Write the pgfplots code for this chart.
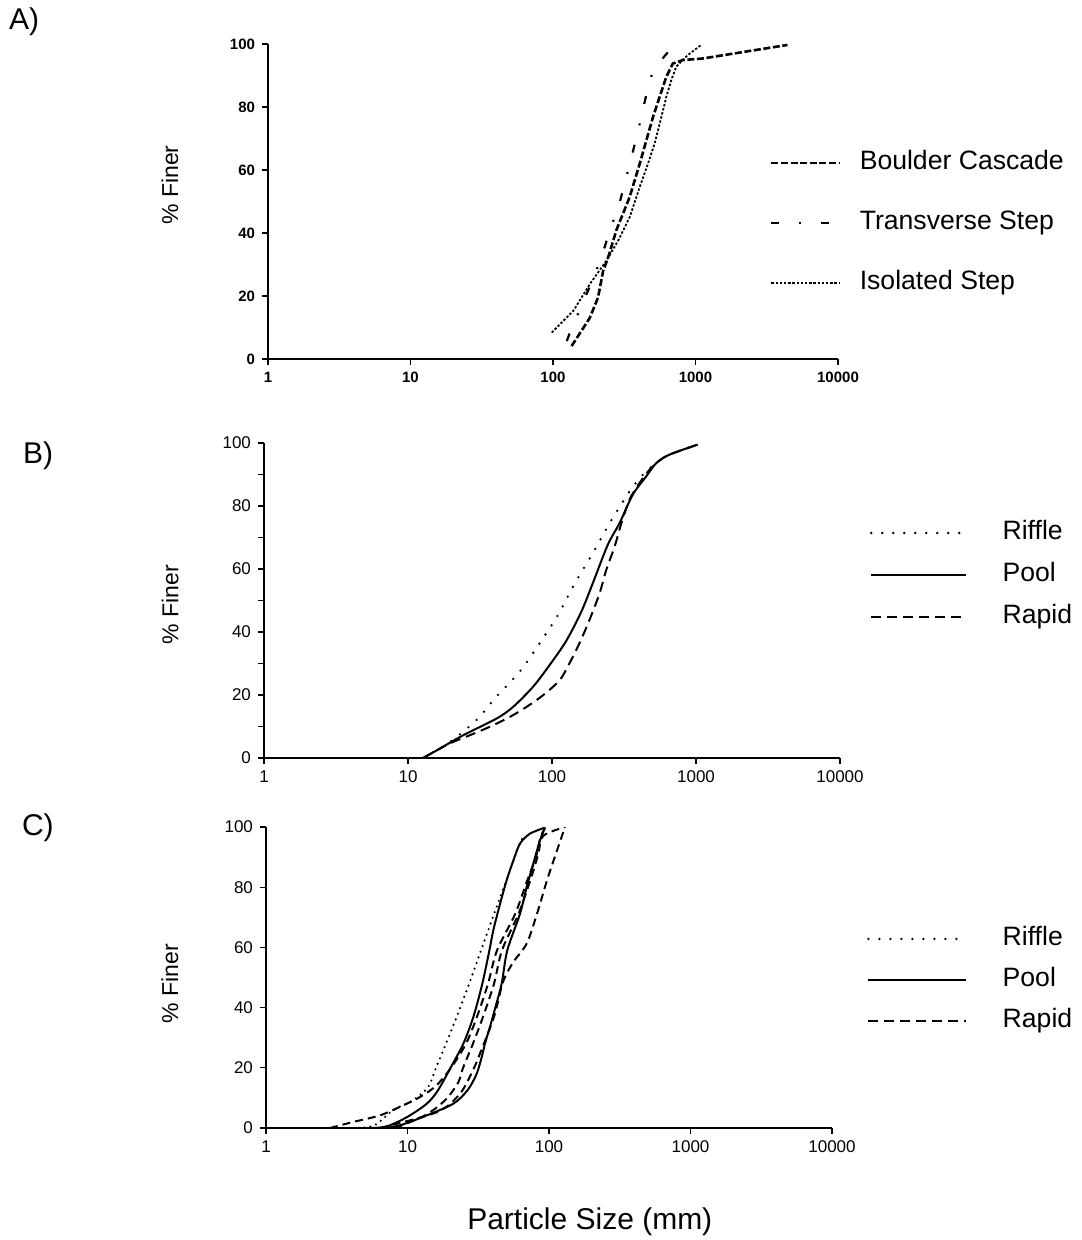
\documentclass[border=0pt]{standalone}
\usepackage{fontspec}
\setmainfont{Liberation Sans}
\usepackage{pgfplots}
\pgfplotsset{compat=1.18}

\tikzset{
  pool/.style={black, line width=1pt},
  rapid/.style={black, line width=1pt, dash pattern=on 5pt off 3pt},
  riffle/.style={black, line width=1.3pt, line cap=round, dash pattern=on 0pt off 5.5pt},
  riffleC/.style={black, line width=1.2pt, line cap=round, dash pattern=on 0pt off 3pt},
  rapidC/.style={black, line width=1pt, dash pattern=on 4pt off 2.5pt},
}

\begin{document}
\begin{tikzpicture}[x=1pt,y=1pt]
\useasboundingbox (0,0) rectangle (540.5,-620);

% ---------------- Panel A ----------------
\begin{axis}[
  scale only axis,
  xmode=log, xmin=1, xmax=10000, ymin=0, ymax=100,
  axis x line*=bottom, axis y line*=left,
  axis line style={line width=0.8pt},
  xtick={1,10,100,1000,10000},
  xticklabels={1,10,100,1000,10000},
  ytick={0,20,40,60,80,100},
  xminorticks=false,
  tick align=outside,
  major tick length=3pt,
  tick style={line width=0.6pt, black},
  /pgf/number format/assume math mode=true,
  every axis title shift=0pt,
  at={(134pt,-179.5pt)}, anchor=south west,
  width=285pt, height=157.5pt,
  ticklabel style={font=\bfseries\fontsize{7.5}{9}\selectfont},
  ylabel={\% Finer},
  ylabel style={font=\fontsize{11.5}{13}\selectfont, anchor=center, at={(axis description cs:-0.172,0.552)}},
  title={A)}, title style={font=\fontsize{15}{17}\selectfont, anchor=center, at={(axis description cs:-0.428,1.07)}},
  legend cell align=left,
  legend image code/.code={\draw[#1] (0pt,0pt) -- (34pt,0pt);},
  legend style={draw=none, fill=none, inner sep=0pt, outer sep=0pt, anchor=west,
    font=\fontsize{13.3}{15}\selectfont,
    nodes={inner sep=0pt, text height=9.5pt, text depth=2.7pt},
    at={(axis description cs:0.881,0.432)}, row sep=17.8pt,
    /tikz/every odd column/.append style={column sep=9.5pt}},
]
\addplot[black, line width=1.3pt, dash pattern=on 3.5pt off 1.3pt] coordinates {
(135,4.1) (181,13) (207,19.5) (225,28) (244,32.3) (279,41) (345,51.4) (406,62)
(452,69.4) (503,76.8) (560,83.2) (624,89.6) (694,93.8) (815,94.9) (1125,95.4) (4420,99.7)};
\addlegendentry{Boulder Cascade}
\addplot[black, line width=1.1pt, dash pattern=on 4pt off 10pt on 1pt off 10pt] coordinates {
(125,5.7) (131.5,8.4) (186.5,24.3) (219,32.3) (250.5,40.8) (291,49) (327,57.7)
(364.5,66) (406,74.7) (447,83) (503,91.7) (665,98.3)};
\addlegendentry{Transverse Step}
\addplot[black, line width=0.9pt, dash pattern=on 1.2pt off 0.9pt] coordinates {
(98,8.4) (139,15.3) (181.5,23.8) (237,31.2) (290,38) (345,45) (406,54.6) (464,62)
(517,68.4) (576,76.8) (624,83.2) (676,88.5) (733,92.8) (815,95) (884,96.5) (1096,99.7)};
\addlegendentry{Isolated Step}
\end{axis}

% ---------------- Panel B ----------------
\begin{axis}[
  scale only axis,
  xmode=log, xmin=1, xmax=10000, ymin=0, ymax=100,
  axis x line*=bottom, axis y line*=left,
  axis line style={line width=0.8pt},
  xtick={1,10,100,1000,10000},
  xticklabels={1,10,100,1000,10000},
  ytick={0,20,40,60,80,100},
  minor ytick={10,30,50,70,90},
  xminorticks=false,
  tick align=outside,
  major tick length=3pt, minor tick length=3pt,
  tick style={line width=0.6pt, black},
  /pgf/number format/assume math mode=true,
  every axis title shift=0pt,
  at={(132pt,-379pt)}, anchor=south west,
  width=288pt, height=157.5pt,
  ticklabel style={font=\fontsize{8.5}{10}\selectfont},
  ylabel={\% Finer},
  ylabel style={font=\fontsize{11.5}{13}\selectfont, anchor=center, at={(axis description cs:-0.163,0.486)}},
  title={B)}, title style={font=\fontsize{15}{17}\selectfont, anchor=center, at={(axis description cs:-0.392,0.959)}},
  legend cell align=left,
  legend image code/.code={\draw[#1] (0pt,0pt) -- (47.5pt,0pt);},
  legend style={draw=none, fill=none, inner sep=0pt, outer sep=0pt, anchor=west,
    font=\fontsize{13.3}{15}\selectfont,
    nodes={inner sep=0pt, text height=9.5pt, text depth=2.7pt},
    at={(axis description cs:1.052,0.581)}, row sep=8.8pt,
    /tikz/every odd column/.append style={column sep=17.5pt}},
]
\addplot[riffle, smooth, tension=0.5] coordinates {
(12.7,0) (19.5,5.1) (29.8,12) (40.4,19.1) (59.6,27.4) (82,36.4) (110,45.4) (143,55.2)
(192,65) (251,74.5) (345,84.6) (427,89.9) (529,93.6) (654,96.3) (1028,99.5)};
\addlegendentry{Riffle}
\addplot[pool, smooth, tension=0.5] coordinates {
(12.7,0) (15.8,2.4) (24.1,7.2) (41.1,12.5) (53.6,16.2) (73.8,22.6) (96.2,29.5)
(125.6,37.2) (159.6,46.4) (192,55.5) (244,67.7) (294,74.5) (364,83.6) (451,89.4)
(529,93.6) (654,96.3) (1028,99.5)};
\addlegendentry{Pool}
\addplot[rapid, smooth, tension=0.5] coordinates {
(12.7,0) (19.5,4.6) (26.8,7.2) (36.9,9.9) (50.8,13) (66.4,16.2) (86.5,19.9) (113,24.7)
(132,30) (155,36.4) (182,43.8) (214,52.3) (238,59.7) (272,67.1) (303,74.5) (345,82)
(405,87.3) (475,91.5) (560,94.5) (654,96.3) (1028,99.5)};
\addlegendentry{Rapid}
\end{axis}

% ---------------- Panel C ----------------
\begin{axis}[
  scale only axis,
  xmode=log, xmin=1, xmax=10000, ymin=0, ymax=100,
  axis x line*=bottom, axis y line*=left,
  axis line style={line width=0.8pt},
  xtick={1,10,100,1000,10000},
  xticklabels={1,10,100,1000,10000},
  ytick={0,20,40,60,80,100},
  xminorticks=false,
  tick align=outside,
  major tick length=3pt,
  tick style={line width=0.6pt, black},
  /pgf/number format/assume math mode=true,
  every axis title shift=0pt,
  at={(133pt,-564pt)}, anchor=south west,
  width=283pt, height=150.5pt,
  ticklabel style={font=\fontsize{8.5}{10}\selectfont},
  ylabel={\% Finer},
  ylabel style={font=\fontsize{11.5}{13}\selectfont, anchor=center, at={(axis description cs:-0.170,0.48)}},
  title={C)}, title style={font=\fontsize{15}{17}\selectfont, anchor=center, at={(axis description cs:-0.403,0.997)}},
  xlabel={Particle Size (mm)},
  xlabel style={font=\fontsize{15}{17}\selectfont, anchor=center, at={(axis description cs:0.572,-0.312)}},
  legend cell align=left,
  legend image code/.code={\draw[#1] (0pt,0pt) -- (49pt,0pt);},
  legend style={draw=none, fill=none, inner sep=0pt, outer sep=0pt, anchor=west,
    font=\fontsize{13.3}{15}\selectfont,
    nodes={inner sep=0pt, text height=9.5pt, text depth=2.7pt},
    at={(axis description cs:1.062,0.492)}, row sep=8.3pt,
    /tikz/every odd column/.append style={column sep=17.5pt}},
]
\addlegendimage{riffle}
\addlegendentry{Riffle}
\addlegendimage{pool}
\addlegendentry{Pool}
\addlegendimage{rapid}
\addlegendentry{Rapid}
\addplot[riffleC, smooth, tension=0.5, forget plot] coordinates {
(4.5,0) (5.9,1) (7.9,5.9) (10.9,9.2) (14.0,13.6) (15.9,20) (18.7,28) (22.3,37) (27.3,48)
(32.5,58) (39.4,69) (46.3,78) (53.0,85.6) (60.7,93.4) (64.4,96)};
\addplot[pool, smooth, tension=0.5, forget plot] coordinates {
(5.5,0) (7.1,0.5) (9.9,3.6) (13.7,8.1) (16.4,12.5) (20.3,20.3) (24.8,28) (29.2,36.9)
(33.8,48) (37.9,59) (40.4,65.7) (45.1,74.5) (50.2,82.3) (56,88.9) (62.4,94.5) (73.4,97.8) (93.7,99.8)};
\addplot[rapidC, smooth, tension=0.5, forget plot] coordinates {
(2.83,0) (4.12,2) (6.39,4.2) (9.29,7.5) (12.26,10.3) (15.9,14) (20.3,20) (25.9,28) (31.0,37)
(37.1,48) (42.9,59) (57.5,71) (69.9,82) (80.9,90) (86.4,96) (93.7,99.8)};
\addplot[pool, smooth, tension=0.5, forget plot] coordinates {
(7,0) (9,1) (13.7,4.2) (21.1,8.1) (26.5,12.5) (30.5,17.5) (33,22.5) (35.5,28.5)
(38.5,34) (42,40.5) (46.3,48) (50.7,59) (62.4,71.2) (69.6,80.1) (77.4,87.8) (86.4,95.6) (93.7,99.8)};
\addplot[rapidC, smooth, tension=0.5, forget plot] coordinates {
(8.16,0) (13.3,4.2) (18.4,9.2) (22.75,15) (24.7,20) (29.0,28) (34.2,37) (40.9,48)
(46.5,59) (60.7,71) (73.4,82) (84,91) (90.7,97) (129.7,100)};
\addplot[rapidC, smooth, tension=0.5, forget plot] coordinates {
(6.39,0) (16.2,5.3) (23.5,11.4) (29.0,19.2) (32.5,24.7) (40.9,37) (47.3,48.5) (55.7,55)
(69.6,61.3) (82.3,71.2) (96.8,82.3) (113.9,92.2) (129.7,100)};
\end{axis}
\end{tikzpicture}
\end{document}
